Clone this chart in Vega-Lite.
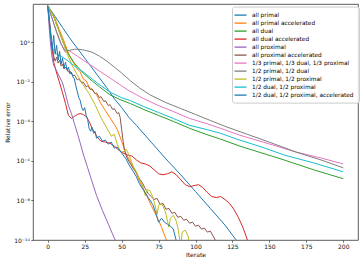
{
"$schema": "https://vega.github.io/schema/vega-lite/v6.json",
"width": 325, "height": 236,
"autosize": {"type": "none"},
"padding": {"left": 33, "top": 4, "right": 5, "bottom": 22},
"background": "white",
"data": {"values": [
{"s":"all primal","i":0,"v":70.8},{"s":"all primal","i":5,"v":20.0},{"s":"all primal","i":10,"v":5.62},{"s":"all primal","i":15,"v":1.58},{"s":"all primal","i":20,"v":0.501},{"s":"all primal","i":25,"v":0.158},{"s":"all primal","i":30,"v":0.0501},{"s":"all primal","i":35,"v":0.0158},{"s":"all primal","i":40,"v":5.01e-3},{"s":"all primal","i":45,"v":1.41e-3},{"s":"all primal","i":50,"v":5.01e-4},{"s":"all primal","i":55,"v":1.58e-4},{"s":"all primal","i":60,"v":6.31e-5},{"s":"all primal","i":70,"v":8.91e-6},{"s":"all primal","i":80,"v":1.26e-6},{"s":"all primal","i":90,"v":2.0e-7},{"s":"all primal","i":100,"v":2.82e-8},{"s":"all primal","i":110,"v":3.98e-9},{"s":"all primal","i":120,"v":5.62e-10},{"s":"all primal","i":127,"v":1.12e-10},{"s":"all primal","i":130,"v":5.62e-11},

{"s":"all primal accelerated","i":0,"v":70.8},{"s":"all primal accelerated","i":2,"v":39.8},{"s":"all primal accelerated","i":4,"v":22.4},{"s":"all primal accelerated","i":6,"v":10},{"s":"all primal accelerated","i":8,"v":3.98},{"s":"all primal accelerated","i":10,"v":1.78},{"s":"all primal accelerated","i":12,"v":0.708},{"s":"all primal accelerated","i":14,"v":0.282},{"s":"all primal accelerated","i":16,"v":0.141},{"s":"all primal accelerated","i":18,"v":0.0794},{"s":"all primal accelerated","i":20,"v":0.0447},{"s":"all primal accelerated","i":22,"v":0.0316},{"s":"all primal accelerated","i":24,"v":0.0141},{"s":"all primal accelerated","i":26,"v":0.0112},{"s":"all primal accelerated","i":28,"v":5.62e-3},{"s":"all primal accelerated","i":30,"v":3.98e-3},{"s":"all primal accelerated","i":33,"v":2.24e-3},{"s":"all primal accelerated","i":36,"v":7.94e-4},{"s":"all primal accelerated","i":39,"v":3.55e-4},{"s":"all primal accelerated","i":42,"v":1.58e-4},{"s":"all primal accelerated","i":45,"v":7.08e-5},{"s":"all primal accelerated","i":47,"v":3.98e-5},{"s":"all primal accelerated","i":50,"v":1.0e-5},{"s":"all primal accelerated","i":53,"v":2.24e-6},{"s":"all primal accelerated","i":56,"v":8.91e-7},{"s":"all primal accelerated","i":59,"v":3.55e-7},{"s":"all primal accelerated","i":62,"v":1.0e-7},{"s":"all primal accelerated","i":66,"v":2.51e-8},{"s":"all primal accelerated","i":70,"v":5.62e-9},{"s":"all primal accelerated","i":74,"v":1.41e-9},{"s":"all primal accelerated","i":77,"v":4.47e-10},{"s":"all primal accelerated","i":80,"v":1.12e-10},{"s":"all primal accelerated","i":82,"v":5.01e-11},

{"s":"all dual","i":0,"v":70.8},{"s":"all dual","i":4,"v":20.0},{"s":"all dual","i":8,"v":3.16},{"s":"all dual","i":11,"v":0.794},{"s":"all dual","i":14,"v":0.251},{"s":"all dual","i":18,"v":0.0891},{"s":"all dual","i":22,"v":0.0398},{"s":"all dual","i":26,"v":0.02},{"s":"all dual","i":30,"v":0.0112},{"s":"all dual","i":35,"v":5.62e-3},{"s":"all dual","i":42,"v":2.24e-3},{"s":"all dual","i":49,"v":1.26e-3},{"s":"all dual","i":56,"v":7.94e-4},{"s":"all dual","i":65,"v":3.98e-4},{"s":"all dual","i":75,"v":2.0e-4},{"s":"all dual","i":85,"v":1.0e-4},{"s":"all dual","i":96,"v":4.47e-5},{"s":"all dual","i":107,"v":2.24e-5},{"s":"all dual","i":117,"v":1.26e-5},{"s":"all dual","i":130,"v":5.62e-6},{"s":"all dual","i":145,"v":2.51e-6},{"s":"all dual","i":160,"v":1.12e-6},{"s":"all dual","i":180,"v":3.55e-7},{"s":"all dual","i":200,"v":1.26e-7},

{"s":"all dual accelerated","i":0,"v":70.8},{"s":"all dual accelerated","i":1,"v":15.8},{"s":"all dual accelerated","i":2,"v":3.16},{"s":"all dual accelerated","i":3,"v":0.501},{"s":"all dual accelerated","i":4,"v":0.1},{"s":"all dual accelerated","i":6,"v":0.0282},{"s":"all dual accelerated","i":8,"v":8.91e-3},{"s":"all dual accelerated","i":10,"v":2.82e-3},{"s":"all dual accelerated","i":12,"v":7.94e-4},{"s":"all dual accelerated","i":14,"v":2.0e-4},{"s":"all dual accelerated","i":16,"v":1.41e-4},{"s":"all dual accelerated","i":18,"v":1.78e-4},{"s":"all dual accelerated","i":20,"v":2.24e-4},{"s":"all dual accelerated","i":22,"v":2.51e-4},{"s":"all dual accelerated","i":24,"v":2.24e-4},{"s":"all dual accelerated","i":26,"v":1.78e-4},{"s":"all dual accelerated","i":28,"v":1.0e-4},{"s":"all dual accelerated","i":30,"v":4.47e-5},{"s":"all dual accelerated","i":32,"v":2.51e-5},{"s":"all dual accelerated","i":34,"v":1.41e-5},{"s":"all dual accelerated","i":36,"v":1.0e-5},{"s":"all dual accelerated","i":39,"v":8.91e-6},{"s":"all dual accelerated","i":42,"v":7.94e-6},{"s":"all dual accelerated","i":45,"v":5.62e-6},{"s":"all dual accelerated","i":48,"v":3.55e-6},{"s":"all dual accelerated","i":51,"v":2.51e-6},{"s":"all dual accelerated","i":54,"v":2.0e-6},{"s":"all dual accelerated","i":57,"v":1.78e-6},{"s":"all dual accelerated","i":60,"v":1.12e-6},{"s":"all dual accelerated","i":63,"v":7.94e-7},{"s":"all dual accelerated","i":66,"v":7.08e-7},{"s":"all dual accelerated","i":69,"v":5.62e-7},{"s":"all dual accelerated","i":72,"v":3.55e-7},{"s":"all dual accelerated","i":75,"v":2.24e-7},{"s":"all dual accelerated","i":78,"v":2.0e-7},{"s":"all dual accelerated","i":81,"v":2.24e-7},{"s":"all dual accelerated","i":84,"v":2.82e-7},{"s":"all dual accelerated","i":87,"v":2.0e-7},{"s":"all dual accelerated","i":90,"v":1.12e-7},{"s":"all dual accelerated","i":93,"v":6.31e-8},{"s":"all dual accelerated","i":96,"v":5.01e-8},{"s":"all dual accelerated","i":99,"v":5.62e-8},{"s":"all dual accelerated","i":102,"v":6.31e-8},{"s":"all dual accelerated","i":105,"v":4.47e-8},{"s":"all dual accelerated","i":108,"v":2.51e-8},{"s":"all dual accelerated","i":111,"v":1.58e-8},{"s":"all dual accelerated","i":114,"v":1.41e-8},{"s":"all dual accelerated","i":117,"v":1.58e-8},{"s":"all dual accelerated","i":120,"v":1.12e-8},{"s":"all dual accelerated","i":123,"v":7.08e-9},{"s":"all dual accelerated","i":126,"v":3.55e-9},{"s":"all dual accelerated","i":129,"v":1.41e-9},{"s":"all dual accelerated","i":132,"v":4.47e-10},{"s":"all dual accelerated","i":134,"v":1.78e-10},{"s":"all dual accelerated","i":136,"v":6.31e-11},

{"s":"all proximal","i":0,"v":70.8},{"s":"all proximal","i":1,"v":5.01},{"s":"all proximal","i":2,"v":0.631},{"s":"all proximal","i":3,"v":0.158},{"s":"all proximal","i":4,"v":0.0708},{"s":"all proximal","i":6,"v":0.0355},{"s":"all proximal","i":8,"v":0.0178},{"s":"all proximal","i":10,"v":8.91e-3},{"s":"all proximal","i":12,"v":2.51e-3},{"s":"all proximal","i":14,"v":6.31e-4},{"s":"all proximal","i":16,"v":2.51e-4},{"s":"all proximal","i":18,"v":7.94e-5},{"s":"all proximal","i":20,"v":2.51e-5},{"s":"all proximal","i":22,"v":7.94e-6},{"s":"all proximal","i":24,"v":2.24e-6},{"s":"all proximal","i":27,"v":4.47e-7},{"s":"all proximal","i":30,"v":8.91e-8},{"s":"all proximal","i":33,"v":1.78e-8},{"s":"all proximal","i":37,"v":3.16e-9},{"s":"all proximal","i":41,"v":6.31e-10},{"s":"all proximal","i":45,"v":1.26e-10},{"s":"all proximal","i":47,"v":6.31e-11},

{"s":"all proximal accelerated","i":0,"v":70.8},{"s":"all proximal accelerated","i":1,"v":12.6},{"s":"all proximal accelerated","i":2,"v":2.51},{"s":"all proximal accelerated","i":3,"v":0.631},{"s":"all proximal accelerated","i":4,"v":0.2},{"s":"all proximal accelerated","i":5,"v":0.112},{"s":"all proximal accelerated","i":6,"v":0.178},{"s":"all proximal accelerated","i":7,"v":0.0891},{"s":"all proximal accelerated","i":8,"v":0.126},{"s":"all proximal accelerated","i":9,"v":0.0631},{"s":"all proximal accelerated","i":10,"v":0.0794},{"s":"all proximal accelerated","i":11,"v":0.0447},{"s":"all proximal accelerated","i":12,"v":0.0562},{"s":"all proximal accelerated","i":14,"v":0.0316},{"s":"all proximal accelerated","i":15,"v":0.0355},{"s":"all proximal accelerated","i":17,"v":0.02},{"s":"all proximal accelerated","i":18,"v":0.0224},{"s":"all proximal accelerated","i":20,"v":0.0126},{"s":"all proximal accelerated","i":21,"v":0.0141},{"s":"all proximal accelerated","i":23,"v":8.91e-3},{"s":"all proximal accelerated","i":24,"v":0.01},{"s":"all proximal accelerated","i":26,"v":5.62e-3},{"s":"all proximal accelerated","i":27,"v":6.31e-3},{"s":"all proximal accelerated","i":29,"v":3.98e-3},{"s":"all proximal accelerated","i":30,"v":4.47e-3},{"s":"all proximal accelerated","i":32,"v":2.51e-3},{"s":"all proximal accelerated","i":33,"v":2.82e-3},{"s":"all proximal accelerated","i":35,"v":1.58e-3},{"s":"all proximal accelerated","i":36,"v":1.78e-3},{"s":"all proximal accelerated","i":38,"v":1.0e-3},{"s":"all proximal accelerated","i":39,"v":1.12e-3},{"s":"all proximal accelerated","i":41,"v":6.31e-4},{"s":"all proximal accelerated","i":42,"v":7.08e-4},{"s":"all proximal accelerated","i":44,"v":3.98e-4},{"s":"all proximal accelerated","i":45,"v":4.47e-4},{"s":"all proximal accelerated","i":47,"v":2.51e-4},{"s":"all proximal accelerated","i":48,"v":2.82e-4},{"s":"all proximal accelerated","i":49,"v":1.58e-4},{"s":"all proximal accelerated","i":50,"v":3.98e-5},{"s":"all proximal accelerated","i":51,"v":1.0e-5},{"s":"all proximal accelerated","i":52,"v":3.16e-6},{"s":"all proximal accelerated","i":54,"v":1.26e-6},{"s":"all proximal accelerated","i":56,"v":7.08e-7},{"s":"all proximal accelerated","i":58,"v":3.98e-7},{"s":"all proximal accelerated","i":60,"v":2.51e-7},{"s":"all proximal accelerated","i":62,"v":1.26e-7},{"s":"all proximal accelerated","i":64,"v":7.94e-8},{"s":"all proximal accelerated","i":66,"v":3.98e-8},{"s":"all proximal accelerated","i":68,"v":2.24e-8},{"s":"all proximal accelerated","i":70,"v":1.58e-8},{"s":"all proximal accelerated","i":72,"v":1.12e-8},{"s":"all proximal accelerated","i":74,"v":1.26e-8},{"s":"all proximal accelerated","i":76,"v":6.31e-9},{"s":"all proximal accelerated","i":78,"v":7.08e-9},{"s":"all proximal accelerated","i":80,"v":3.55e-9},{"s":"all proximal accelerated","i":82,"v":3.98e-9},{"s":"all proximal accelerated","i":84,"v":2.24e-9},{"s":"all proximal accelerated","i":86,"v":2.51e-9},{"s":"all proximal accelerated","i":88,"v":1.41e-9},{"s":"all proximal accelerated","i":90,"v":1.58e-9},{"s":"all proximal accelerated","i":92,"v":1.0e-9},{"s":"all proximal accelerated","i":94,"v":1.12e-9},{"s":"all proximal accelerated","i":96,"v":7.08e-10},{"s":"all proximal accelerated","i":98,"v":7.94e-10},{"s":"all proximal accelerated","i":100,"v":5.01e-10},{"s":"all proximal accelerated","i":102,"v":5.62e-10},{"s":"all proximal accelerated","i":104,"v":3.55e-10},{"s":"all proximal accelerated","i":106,"v":3.98e-10},{"s":"all proximal accelerated","i":108,"v":2.51e-10},{"s":"all proximal accelerated","i":110,"v":2.82e-10},{"s":"all proximal accelerated","i":112,"v":1.58e-10},{"s":"all proximal accelerated","i":114,"v":7.94e-11},

{"s":"1/3 primal, 1/3 dual, 1/3 proximal","i":0,"v":70.8},{"s":"1/3 primal, 1/3 dual, 1/3 proximal","i":3,"v":15.8},{"s":"1/3 primal, 1/3 dual, 1/3 proximal","i":6,"v":3.55},{"s":"1/3 primal, 1/3 dual, 1/3 proximal","i":9,"v":0.891},{"s":"1/3 primal, 1/3 dual, 1/3 proximal","i":11,"v":0.398},{"s":"1/3 primal, 1/3 dual, 1/3 proximal","i":12,"v":0.316},{"s":"1/3 primal, 1/3 dual, 1/3 proximal","i":13,"v":0.355},{"s":"1/3 primal, 1/3 dual, 1/3 proximal","i":14,"v":0.398},{"s":"1/3 primal, 1/3 dual, 1/3 proximal","i":16,"v":0.316},{"s":"1/3 primal, 1/3 dual, 1/3 proximal","i":20,"v":0.2},{"s":"1/3 primal, 1/3 dual, 1/3 proximal","i":25,"v":0.112},{"s":"1/3 primal, 1/3 dual, 1/3 proximal","i":30,"v":0.0631},{"s":"1/3 primal, 1/3 dual, 1/3 proximal","i":35,"v":0.0355},{"s":"1/3 primal, 1/3 dual, 1/3 proximal","i":40,"v":0.02},{"s":"1/3 primal, 1/3 dual, 1/3 proximal","i":45,"v":0.0112},{"s":"1/3 primal, 1/3 dual, 1/3 proximal","i":50,"v":6.31e-3},{"s":"1/3 primal, 1/3 dual, 1/3 proximal","i":55,"v":3.55e-3},{"s":"1/3 primal, 1/3 dual, 1/3 proximal","i":60,"v":2.24e-3},{"s":"1/3 primal, 1/3 dual, 1/3 proximal","i":65,"v":1.41e-3},{"s":"1/3 primal, 1/3 dual, 1/3 proximal","i":75,"v":6.31e-4},{"s":"1/3 primal, 1/3 dual, 1/3 proximal","i":85,"v":3.16e-4},{"s":"1/3 primal, 1/3 dual, 1/3 proximal","i":96,"v":1.41e-4},{"s":"1/3 primal, 1/3 dual, 1/3 proximal","i":107,"v":7.94e-5},{"s":"1/3 primal, 1/3 dual, 1/3 proximal","i":117,"v":4.47e-5},{"s":"1/3 primal, 1/3 dual, 1/3 proximal","i":130,"v":2.0e-5},{"s":"1/3 primal, 1/3 dual, 1/3 proximal","i":146,"v":8.91e-6},{"s":"1/3 primal, 1/3 dual, 1/3 proximal","i":168,"v":2.82e-6},{"s":"1/3 primal, 1/3 dual, 1/3 proximal","i":185,"v":1.41e-6},{"s":"1/3 primal, 1/3 dual, 1/3 proximal","i":200,"v":7.08e-7},

{"s":"1/2 primal, 1/2 dual","i":0,"v":70.8},{"s":"1/2 primal, 1/2 dual","i":3,"v":15.8},{"s":"1/2 primal, 1/2 dual","i":6,"v":3.16},{"s":"1/2 primal, 1/2 dual","i":9,"v":0.794},{"s":"1/2 primal, 1/2 dual","i":12,"v":0.355},{"s":"1/2 primal, 1/2 dual","i":15,"v":0.398},{"s":"1/2 primal, 1/2 dual","i":18,"v":0.447},{"s":"1/2 primal, 1/2 dual","i":21,"v":0.447},{"s":"1/2 primal, 1/2 dual","i":25,"v":0.398},{"s":"1/2 primal, 1/2 dual","i":30,"v":0.316},{"s":"1/2 primal, 1/2 dual","i":35,"v":0.2},{"s":"1/2 primal, 1/2 dual","i":40,"v":0.112},{"s":"1/2 primal, 1/2 dual","i":45,"v":0.0562},{"s":"1/2 primal, 1/2 dual","i":50,"v":0.0282},{"s":"1/2 primal, 1/2 dual","i":56,"v":0.0112},{"s":"1/2 primal, 1/2 dual","i":62,"v":5.01e-3},{"s":"1/2 primal, 1/2 dual","i":69,"v":2.24e-3},{"s":"1/2 primal, 1/2 dual","i":80,"v":8.91e-4},{"s":"1/2 primal, 1/2 dual","i":90,"v":4.47e-4},{"s":"1/2 primal, 1/2 dual","i":100,"v":2.24e-4},{"s":"1/2 primal, 1/2 dual","i":110,"v":1.12e-4},{"s":"1/2 primal, 1/2 dual","i":120,"v":5.62e-5},{"s":"1/2 primal, 1/2 dual","i":135,"v":2.24e-5},{"s":"1/2 primal, 1/2 dual","i":150,"v":8.91e-6},{"s":"1/2 primal, 1/2 dual","i":168,"v":2.82e-6},{"s":"1/2 primal, 1/2 dual","i":185,"v":1.12e-6},{"s":"1/2 primal, 1/2 dual","i":200,"v":4.47e-7},

{"s":"1/2 primal, 1/2 proximal","i":0,"v":70.8},{"s":"1/2 primal, 1/2 proximal","i":4,"v":20.0},{"s":"1/2 primal, 1/2 proximal","i":8,"v":3.16},{"s":"1/2 primal, 1/2 proximal","i":12,"v":0.447},{"s":"1/2 primal, 1/2 proximal","i":16,"v":0.0794},{"s":"1/2 primal, 1/2 proximal","i":20,"v":0.0224},{"s":"1/2 primal, 1/2 proximal","i":24,"v":7.08e-3},{"s":"1/2 primal, 1/2 proximal","i":28,"v":2.51e-3},{"s":"1/2 primal, 1/2 proximal","i":32,"v":7.08e-4},{"s":"1/2 primal, 1/2 proximal","i":36,"v":1.58e-4},{"s":"1/2 primal, 1/2 proximal","i":40,"v":4.47e-5},{"s":"1/2 primal, 1/2 proximal","i":42,"v":2.51e-5},{"s":"1/2 primal, 1/2 proximal","i":43,"v":1.78e-5},{"s":"1/2 primal, 1/2 proximal","i":45,"v":2.24e-5},{"s":"1/2 primal, 1/2 proximal","i":47,"v":7.08e-6},{"s":"1/2 primal, 1/2 proximal","i":49,"v":3.16e-6},{"s":"1/2 primal, 1/2 proximal","i":51,"v":2.82e-6},{"s":"1/2 primal, 1/2 proximal","i":53,"v":3.98e-6},{"s":"1/2 primal, 1/2 proximal","i":55,"v":2.0e-6},{"s":"1/2 primal, 1/2 proximal","i":57,"v":7.94e-7},{"s":"1/2 primal, 1/2 proximal","i":58,"v":5.01e-7},{"s":"1/2 primal, 1/2 proximal","i":60,"v":2.82e-7},{"s":"1/2 primal, 1/2 proximal","i":62,"v":1.12e-7},{"s":"1/2 primal, 1/2 proximal","i":64,"v":6.31e-8},{"s":"1/2 primal, 1/2 proximal","i":66,"v":1.78e-8},{"s":"1/2 primal, 1/2 proximal","i":67,"v":3.55e-8},{"s":"1/2 primal, 1/2 proximal","i":69,"v":3.16e-8},{"s":"1/2 primal, 1/2 proximal","i":71,"v":1.58e-8},{"s":"1/2 primal, 1/2 proximal","i":72,"v":8.91e-9},{"s":"1/2 primal, 1/2 proximal","i":74,"v":2.0e-9},{"s":"1/2 primal, 1/2 proximal","i":75,"v":5.62e-9},{"s":"1/2 primal, 1/2 proximal","i":77,"v":7.08e-9},{"s":"1/2 primal, 1/2 proximal","i":79,"v":3.55e-9},{"s":"1/2 primal, 1/2 proximal","i":80,"v":2.0e-9},{"s":"1/2 primal, 1/2 proximal","i":82,"v":4.47e-10},{"s":"1/2 primal, 1/2 proximal","i":83,"v":1.26e-9},{"s":"1/2 primal, 1/2 proximal","i":85,"v":1.78e-9},{"s":"1/2 primal, 1/2 proximal","i":87,"v":8.91e-10},{"s":"1/2 primal, 1/2 proximal","i":88,"v":4.47e-10},{"s":"1/2 primal, 1/2 proximal","i":90,"v":5.01e-11},{"s":"1/2 primal, 1/2 proximal","i":91,"v":2.51e-10},{"s":"1/2 primal, 1/2 proximal","i":93,"v":3.16e-10},{"s":"1/2 primal, 1/2 proximal","i":95,"v":1.58e-10},{"s":"1/2 primal, 1/2 proximal","i":96,"v":5.01e-11},

{"s":"1/2 dual, 1/2 proximal","i":0,"v":70.8},{"s":"1/2 dual, 1/2 proximal","i":1,"v":12.6},{"s":"1/2 dual, 1/2 proximal","i":2,"v":2.0},{"s":"1/2 dual, 1/2 proximal","i":3,"v":0.708},{"s":"1/2 dual, 1/2 proximal","i":4,"v":0.355},{"s":"1/2 dual, 1/2 proximal","i":6,"v":0.251},{"s":"1/2 dual, 1/2 proximal","i":9,"v":0.2},{"s":"1/2 dual, 1/2 proximal","i":13,"v":0.126},{"s":"1/2 dual, 1/2 proximal","i":18,"v":0.0631},{"s":"1/2 dual, 1/2 proximal","i":24,"v":0.0316},{"s":"1/2 dual, 1/2 proximal","i":30,"v":0.0141},{"s":"1/2 dual, 1/2 proximal","i":36,"v":6.31e-3},{"s":"1/2 dual, 1/2 proximal","i":43,"v":2.82e-3},{"s":"1/2 dual, 1/2 proximal","i":50,"v":1.58e-3},{"s":"1/2 dual, 1/2 proximal","i":56,"v":1.12e-3},{"s":"1/2 dual, 1/2 proximal","i":65,"v":5.62e-4},{"s":"1/2 dual, 1/2 proximal","i":75,"v":2.82e-4},{"s":"1/2 dual, 1/2 proximal","i":85,"v":1.41e-4},{"s":"1/2 dual, 1/2 proximal","i":96,"v":6.31e-5},{"s":"1/2 dual, 1/2 proximal","i":107,"v":3.98e-5},{"s":"1/2 dual, 1/2 proximal","i":117,"v":2.51e-5},{"s":"1/2 dual, 1/2 proximal","i":128,"v":1.26e-5},{"s":"1/2 dual, 1/2 proximal","i":145,"v":5.01e-6},{"s":"1/2 dual, 1/2 proximal","i":160,"v":2.0e-6},{"s":"1/2 dual, 1/2 proximal","i":180,"v":7.94e-7},{"s":"1/2 dual, 1/2 proximal","i":200,"v":2.82e-7},

{"s":"1/2 dual, 1/2 proximal, accelerated","i":0,"v":70.8},{"s":"1/2 dual, 1/2 proximal, accelerated","i":1,"v":12.6},{"s":"1/2 dual, 1/2 proximal, accelerated","i":2,"v":2.0},{"s":"1/2 dual, 1/2 proximal, accelerated","i":3,"v":0.398},{"s":"1/2 dual, 1/2 proximal, accelerated","i":4,"v":2.24},{"s":"1/2 dual, 1/2 proximal, accelerated","i":5,"v":0.251},{"s":"1/2 dual, 1/2 proximal, accelerated","i":6,"v":0.708},{"s":"1/2 dual, 1/2 proximal, accelerated","i":7,"v":0.126},{"s":"1/2 dual, 1/2 proximal, accelerated","i":8,"v":0.355},{"s":"1/2 dual, 1/2 proximal, accelerated","i":9,"v":0.0794},{"s":"1/2 dual, 1/2 proximal, accelerated","i":10,"v":0.158},{"s":"1/2 dual, 1/2 proximal, accelerated","i":11,"v":0.0501},{"s":"1/2 dual, 1/2 proximal, accelerated","i":12,"v":0.1},{"s":"1/2 dual, 1/2 proximal, accelerated","i":13,"v":0.0398},{"s":"1/2 dual, 1/2 proximal, accelerated","i":14,"v":0.0562},{"s":"1/2 dual, 1/2 proximal, accelerated","i":15,"v":0.0251},{"s":"1/2 dual, 1/2 proximal, accelerated","i":16,"v":0.0316},{"s":"1/2 dual, 1/2 proximal, accelerated","i":17,"v":0.0178},{"s":"1/2 dual, 1/2 proximal, accelerated","i":18,"v":0.0141},{"s":"1/2 dual, 1/2 proximal, accelerated","i":19,"v":6.31e-3},{"s":"1/2 dual, 1/2 proximal, accelerated","i":20,"v":3.16e-3},{"s":"1/2 dual, 1/2 proximal, accelerated","i":21,"v":1.58e-3},{"s":"1/2 dual, 1/2 proximal, accelerated","i":22,"v":1.12e-3},{"s":"1/2 dual, 1/2 proximal, accelerated","i":23,"v":5.01e-4},{"s":"1/2 dual, 1/2 proximal, accelerated","i":24,"v":3.55e-4},{"s":"1/2 dual, 1/2 proximal, accelerated","i":25,"v":5.01e-4},{"s":"1/2 dual, 1/2 proximal, accelerated","i":26,"v":2.0e-4},{"s":"1/2 dual, 1/2 proximal, accelerated","i":27,"v":1.26e-4},{"s":"1/2 dual, 1/2 proximal, accelerated","i":28,"v":4.47e-5},{"s":"1/2 dual, 1/2 proximal, accelerated","i":29,"v":3.16e-5},{"s":"1/2 dual, 1/2 proximal, accelerated","i":30,"v":5.01e-5},{"s":"1/2 dual, 1/2 proximal, accelerated","i":31,"v":2.51e-5},{"s":"1/2 dual, 1/2 proximal, accelerated","i":32,"v":3.16e-5},{"s":"1/2 dual, 1/2 proximal, accelerated","i":33,"v":1.41e-5},{"s":"1/2 dual, 1/2 proximal, accelerated","i":35,"v":1.78e-5},{"s":"1/2 dual, 1/2 proximal, accelerated","i":37,"v":1.0e-5},{"s":"1/2 dual, 1/2 proximal, accelerated","i":39,"v":1.12e-5},{"s":"1/2 dual, 1/2 proximal, accelerated","i":41,"v":7.08e-6},{"s":"1/2 dual, 1/2 proximal, accelerated","i":43,"v":8.91e-6},{"s":"1/2 dual, 1/2 proximal, accelerated","i":45,"v":4.47e-6},{"s":"1/2 dual, 1/2 proximal, accelerated","i":47,"v":5.01e-6},{"s":"1/2 dual, 1/2 proximal, accelerated","i":49,"v":3.16e-6},{"s":"1/2 dual, 1/2 proximal, accelerated","i":51,"v":2.0e-6},{"s":"1/2 dual, 1/2 proximal, accelerated","i":53,"v":1.26e-6},{"s":"1/2 dual, 1/2 proximal, accelerated","i":55,"v":6.31e-7},{"s":"1/2 dual, 1/2 proximal, accelerated","i":58,"v":2.82e-7},{"s":"1/2 dual, 1/2 proximal, accelerated","i":60,"v":1.58e-7},{"s":"1/2 dual, 1/2 proximal, accelerated","i":62,"v":7.08e-8},{"s":"1/2 dual, 1/2 proximal, accelerated","i":65,"v":3.16e-8},{"s":"1/2 dual, 1/2 proximal, accelerated","i":68,"v":1.41e-8},{"s":"1/2 dual, 1/2 proximal, accelerated","i":71,"v":6.31e-9},{"s":"1/2 dual, 1/2 proximal, accelerated","i":73,"v":2.51e-9},{"s":"1/2 dual, 1/2 proximal, accelerated","i":75,"v":7.94e-10},{"s":"1/2 dual, 1/2 proximal, accelerated","i":77,"v":1.26e-9},{"s":"1/2 dual, 1/2 proximal, accelerated","i":79,"v":7.94e-10},{"s":"1/2 dual, 1/2 proximal, accelerated","i":81,"v":6.31e-10},{"s":"1/2 dual, 1/2 proximal, accelerated","i":83,"v":5.01e-10},{"s":"1/2 dual, 1/2 proximal, accelerated","i":85,"v":3.55e-10},{"s":"1/2 dual, 1/2 proximal, accelerated","i":87,"v":8.91e-11},{"s":"1/2 dual, 1/2 proximal, accelerated","i":88,"v":5.01e-11}
]},
"mark": {"type": "line", "strokeWidth": 1, "clip": true},
"encoding": {
  "x": {"field": "i", "type": "quantitative",
        "scale": {"domain": [-10, 210], "nice": false, "zero": false},
        "axis": {"title": "Iterate", "values": [0,25,50,75,100,125,150,175,200], "labelFlush": false}},
  "y": {"field": "v", "type": "quantitative",
        "scale": {"type": "log", "domain": [1e-10, 87], "nice": false},
        "axis": {"title": "Relative error", "values": [1e-10,1e-8,1e-6,1e-4,1e-2,1],
                 "labelExpr": "datum.value >= 0.5 ? '10⁰' : datum.value >= 0.005 ? '10⁻²' : datum.value >= 5e-5 ? '10⁻⁴' : datum.value >= 5e-7 ? '10⁻⁶' : datum.value >= 5e-9 ? '10⁻⁸' : '10⁻¹⁰'"}},
  "color": {"field": "s", "type": "nominal",
    "scale": {"domain": ["all primal","all primal accelerated","all dual","all dual accelerated","all proximal","all proximal accelerated","1/3 primal, 1/3 dual, 1/3 proximal","1/2 primal, 1/2 dual","1/2 primal, 1/2 proximal","1/2 dual, 1/2 proximal","1/2 dual, 1/2 proximal, accelerated"],
              "range": ["#1f77b4","#ff7f0e","#2ca02c","#d62728","#9467bd","#8c564b","#e377c2","#7f7f7f","#bcbd22","#17becf","#1f77b4"]},
    "legend": {"title": null, "orient": "none", "legendX": 199, "legendY": 2.6,
               "symbolType": "M-2,0H2", "symbolSize": 36, "symbolStrokeWidth": 1.3,
               "labelFontSize": 5.8, "labelFont": "DejaVu Sans", "labelColor": "#000", "labelOffset": 7.5, "labelLimit": 200,
               "rowPadding": 1.0, "padding": 4.5, "strokeColor": "#cccccc", "fillColor": "rgba(255,255,255,0.8)", "cornerRadius": 2}}
},
"config": {
  "view": {"stroke": "#333", "strokeWidth": 0.8},
  "axis": {"grid": false, "domain": false, "labelFont": "DejaVu Sans", "titleFont": "DejaVu Sans",
           "labelFontSize": 6, "titleFontSize": 6, "titleFontWeight": "normal", "labelColor": "#111", "titleColor": "#111",
           "tickColor": "#333", "tickSize": 2.2, "tickWidth": 0.7, "labelPadding": 1.5},
  "axisX": {"titlePadding": 1.5},
  "axisY": {"titlePadding": 3}
}
}
